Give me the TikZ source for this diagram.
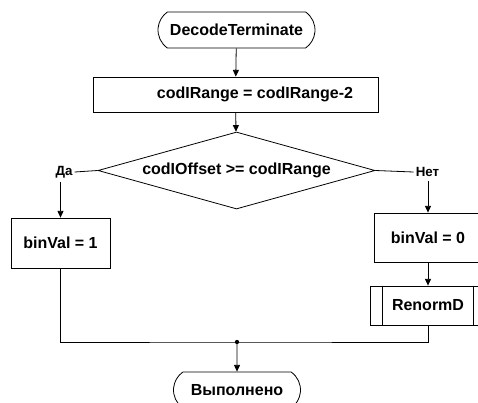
\documentclass[tikz,border=0pt]{standalone}
\usepackage{fontspec}
\setmainfont{Liberation Sans}
\usetikzlibrary{shapes.geometric,shapes.misc,arrows.meta}

\tikzset{
  flow/.style={line width=0.6pt},
  arr/.style={flow,-{Triangle[length=5pt,width=4.5pt]}},
  txt/.style={font=\bfseries\fontsize{12}{14}\selectfont},
  lbl/.style={font=\bfseries\fontsize{10}{12}\selectfont,inner xsep=1.5pt,inner ysep=3pt},
  term/.style={txt,flow,draw,rounded rectangle,rounded rectangle arc length=110,minimum height=27pt,inner sep=0pt},
  proc/.style={txt,flow,draw,rectangle,inner sep=0pt},
  decision/.style={txt,flow,draw,diamond,aspect=3.6,minimum width=207.75pt,minimum height=57.75pt,inner sep=0pt},
}

\begin{document}
\begin{tikzpicture}[x=0.75pt,y=0.75pt,yscale=-1,xscale=1]
\useasboundingbox (0,0) rectangle (478,403);

%Shape: Terminal [start]
\node[term,minimum width=117.75pt] (start) at (236.5,30) {DecodeTerminate};
%Shape: Rectangle [range]
\node[proc,minimum width=213.75pt,minimum height=26.25pt,
  label={[txt,xshift=14.6pt]center:{codIRange = codIRange-2}}] (range) at (235.5,94.5) {};
%Shape: Diamond [test]
\node[decision] (test) at (236.5,170.5) {codIOffset >= codIRange};

% Text Node
\node[lbl] (yes) at (64,172) {Да};
% Text Node
\node[lbl] (no) at (427.5,172) {Нет};

%Shape: Rectangle [bin one]
\node[proc,minimum width=74.25pt,minimum height=37.5pt] (binone) at (60.5,243) {binVal = 1};
%Shape: Rectangle [bin zero]
\node[proc,minimum width=81pt,minimum height=36.75pt] (binzero) at (428,237.5) {binVal = 0};
%Shape: Subprocess [renorm]
\node[proc,minimum width=87pt,minimum height=29.25pt] (renorm) at (428,305.5) {RenormD};
\draw[flow] ([xshift=9.75pt]renorm.north west) -- ([xshift=9.75pt]renorm.south west);
\draw[flow] ([xshift=-9.75pt]renorm.north east) -- ([xshift=-9.75pt]renorm.south east);

%Shape: Terminal [done]
\coordinate (join) at (237,342);
\node[term,minimum width=95.25pt] (done) at (237,390) {Выполнено};

% Connectors
\draw[arr] (start) -- (range);
\draw[arr] (range) -- (test);
\draw[flow] (test.west) -- (yes.east);
\draw[flow] (test.east) -- (no.west);
\draw[arr] (yes.south -| binone.north) -- (binone.north);
\draw[arr] (no.south -| binzero.north) -- (binzero.north);
\draw[arr] (binzero) -- (renorm);
\draw[flow] (binone.south) |- (join) -| (renorm.south);
\fill (join) circle (1.6pt);
\draw[arr] (join) -- (done);

\end{tikzpicture}
\end{document}
